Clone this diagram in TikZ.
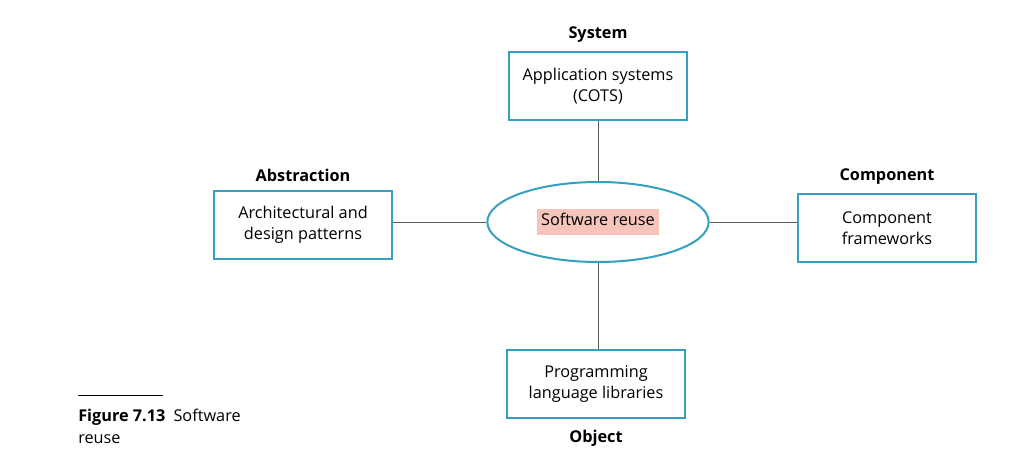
\documentclass[tikz,border=0pt]{standalone}
\usepackage{fontspec}
\setmainfont{Open Sans}
\usepackage{tikz}
\usetikzlibrary{positioning,shapes.geometric}
\definecolor{reuseteal}{RGB}{52,160,190}
\definecolor{reusepink}{RGB}{246,196,186}
\definecolor{linkgrey}{RGB}{90,90,90}
\tikzset{
  leafbox/.style={draw=reuseteal,line width=1.5pt,fill=white,align=center,font=\fontsize{12.2}{15.5}\selectfont,minimum width=133.5pt,minimum height=51pt,inner sep=2pt},
  hubnode/.style={ellipse,draw=reuseteal,line width=1.5pt,fill=white,minimum width=166pt,minimum height=60pt,inner sep=0pt},
  levellabel/.style={font=\fontsize{12.2}{14}\selectfont\bfseries},
  link/.style={draw=linkgrey,line width=0.7pt},
}
\begin{document}
\begin{tikzpicture}[x=0.75pt,y=-0.75pt]
  \useasboundingbox (0,0) rectangle (1018,471);
  \node[hubnode] (hub) at (598,222) {\fontsize{12.2}{14}\selectfont\colorbox{reusepink}{\strut Software reuse}};
  \node[leafbox] (system) at (598,86) {Application systems\\(COTS)};
  \node[leafbox] (abstraction) at (303,225) {Architectural and\\design patterns};
  \node[leafbox] (component) at (887,228) {Component\\frameworks};
  \node[leafbox] (object) at (596,384) {Programming\\language libraries};
  \node[levellabel,above=3pt of system] (systemlbl) {System};
  \node[levellabel,above=3pt of abstraction] (abstractionlbl) {Abstraction};
  \node[levellabel,above=3pt of component] (componentlbl) {Component};
  \node[levellabel,below=5pt of object] (objectlbl) {Object};
  \draw[link] (system) -- (hub);
  \draw[link] (hub) -- (hub |- object.north);
  \draw[link] (abstraction.east |- hub) -- (hub);
  \draw[link] (hub) -- (component.west |- hub);
  \coordinate (rulestart) at (78,395);
  \coordinate (ruleend) at (163,395);
  \draw[line width=0.6pt] (rulestart) -- (ruleend);
  \node[anchor=north west,align=left,inner sep=0pt,font=\fontsize{12.2}{16}\selectfont] (caption) at (78,409) {\textbf{Figure 7.13}\enspace Software\\reuse};
\end{tikzpicture}
\end{document}
